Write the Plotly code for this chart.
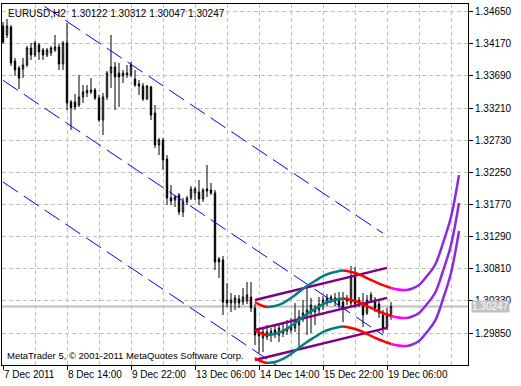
import plotly.graph_objects as go

# ---------------- data ----------------
symbol = "EURUSD,H2"
copyright_text = "MetaTrader 5, © 2001-2011 MetaQuotes Software Corp."
time_label_bars = [0, 16, 32, 48, 64, 80, 96]
time_labels = ["7 Dec 2011", "8 Dec 14:00", "9 Dec 22:00", "13 Dec 06:00",
               "14 Dec 14:00", "15 Dec 22:00", "19 Dec 06:00"]
grid_bars = [8, 24, 40, 56, 72, 88, 104, 112]
price_ticks = [1.29850, 1.30330, 1.30810, 1.31290, 1.31770, 1.32250,
               1.32730, 1.33210, 1.33690, 1.34170, 1.34650]

open_ = [1.34437, 1.34302, 1.34422, 1.33914, 1.33809, 1.33794, 1.33854, 1.34108, 1.34003, 1.34153,
         1.34078, 1.34003, 1.34033, 1.34078, 1.34123, 1.33869, 1.34183, 1.33301, 1.33301, 1.33256,
         1.33376, 1.33436, 1.33451, 1.33480, 1.33361, 1.33032, 1.33376, 1.33734, 1.33824, 1.33734,
         1.33690, 1.33705, 1.33705, 1.33645, 1.33570, 1.33540, 1.33346, 1.33525, 1.33137, 1.32659,
         1.32733, 1.32450, 1.31867, 1.31837, 1.31912, 1.31658, 1.31807, 1.31867, 1.31942, 1.31957,
         1.31852, 1.32001, 1.31986, 1.31942, 1.30956, 1.30941, 1.30343, 1.30298, 1.30298, 1.30358,
         1.30313, 1.30328, 1.30388, 1.30224, 1.29850, 1.29775, 1.29790, 1.29820, 1.29895, 1.29820,
         1.29850, 1.29880, 1.29895, 1.29925, 1.29970, 1.30074, 1.30119, 1.30149, 1.30164, 1.30194,
         1.30268, 1.30298, 1.30343, 1.30313, 1.30343, 1.30313, 1.30373, 1.30298, 1.30687, 1.30343,
         1.30253, 1.30149, 1.30343, 1.30343, 1.30283, 1.30119, 1.29940, 1.30122]
high = [1.34496, 1.34541, 1.34452, 1.33959, 1.33839, 1.33959, 1.34138, 1.34183, 1.34213, 1.34183,
        1.34108, 1.34108, 1.34138, 1.34302, 1.34168, 1.34213, 1.34481, 1.33331, 1.33421, 1.33705,
        1.33555, 1.33555, 1.33660, 1.33510, 1.33406, 1.33436, 1.33764, 1.34302, 1.33899, 1.33884,
        1.33779, 1.33854, 1.33899, 1.33779, 1.33630, 1.33585, 1.33555, 1.33540, 1.33256, 1.32763,
        1.32763, 1.32509, 1.32061, 1.31912, 1.31942, 1.31867, 1.31897, 1.32046, 1.32031, 1.32136,
        1.32016, 1.32360, 1.32091, 1.31986, 1.30985, 1.31000, 1.30597, 1.30448, 1.30418, 1.30418,
        1.30522, 1.30612, 1.30612, 1.30283, 1.29895, 1.29940, 1.29970, 1.29925, 1.29955, 1.29999,
        1.30014, 1.30044, 1.30074, 1.30298, 1.30194, 1.30343, 1.30537, 1.30373, 1.30268, 1.30388,
        1.30403, 1.30433, 1.30418, 1.30448, 1.30463, 1.30463, 1.30418, 1.30851, 1.30836, 1.30388,
        1.30448, 1.30418, 1.30463, 1.30388, 1.30343, 1.30194, 1.30224, 1.30312]
low = [1.34168, 1.34257, 1.33839, 1.33690, 1.33495, 1.33660, 1.33824, 1.33929, 1.33973, 1.33929,
       1.33929, 1.33973, 1.33988, 1.34048, 1.33779, 1.33779, 1.33182, 1.32883, 1.33182, 1.33226,
       1.33286, 1.33376, 1.33421, 1.33331, 1.33002, 1.32808, 1.33331, 1.33510, 1.33182, 1.33226,
       1.33585, 1.33660, 1.33675, 1.33525, 1.33406, 1.33316, 1.33331, 1.33032, 1.32614, 1.32509,
       1.32285, 1.31762, 1.31762, 1.31732, 1.31613, 1.31583, 1.31762, 1.31837, 1.31837, 1.31762,
       1.31807, 1.31882, 1.31912, 1.30791, 1.30672, 1.30119, 1.30238, 1.30164, 1.30194, 1.30224,
       1.30268, 1.30283, 1.30164, 1.29671, 1.29551, 1.29566, 1.29745, 1.29716, 1.29775, 1.29716,
       1.29790, 1.29820, 1.29850, 1.29865, 1.29641, 1.30014, 1.29820, 1.29850, 1.29970, 1.30134,
       1.30194, 1.30253, 1.30298, 1.30253, 1.30224, 1.30014, 1.30268, 1.30253, 1.30224, 1.30238,
       1.29940, 1.30119, 1.30298, 1.30164, 1.30074, 1.29850, 1.29895, 1.30047]
close = [1.34198, 1.34437, 1.33884, 1.33779, 1.33660, 1.33854, 1.34108, 1.34003, 1.34183, 1.34048,
         1.34003, 1.34078, 1.34108, 1.34123, 1.33869, 1.34183, 1.33286, 1.33212, 1.33226, 1.33376,
         1.33451, 1.33473, 1.33480, 1.33361, 1.33032, 1.33376, 1.33734, 1.33824, 1.33675, 1.33675,
         1.33734, 1.33734, 1.33854, 1.33555, 1.33540, 1.33346, 1.33540, 1.33107, 1.32659, 1.32733,
         1.32435, 1.31867, 1.31822, 1.31882, 1.31658, 1.31807, 1.31867, 1.32001, 1.32001, 1.31852,
         1.31986, 1.31972, 1.31942, 1.30911, 1.30911, 1.30313, 1.30298, 1.30343, 1.30373, 1.30298,
         1.30388, 1.30418, 1.30224, 1.29820, 1.29805, 1.29865, 1.29865, 1.29880, 1.29850, 1.29925,
         1.29895, 1.29925, 1.29940, 1.30044, 1.30089, 1.30149, 1.30194, 1.30268, 1.30224, 1.30283,
         1.30343, 1.30373, 1.30388, 1.30373, 1.30268, 1.30224, 1.30328, 1.30702, 1.30283, 1.30298,
         1.30119, 1.30343, 1.30418, 1.30224, 1.30149, 1.29925, 1.30104, 1.30247]

# Linear regression channel (blue dashed)
chan_bars = [0, 95]
chan_mid = [1.33625, 1.29820]
chan_dev = 0.01520

# Short regression channel (purple)
reg_bars = [63, 96]
reg_mid = [1.29895, 1.30375]
reg_dev = 0.00448

# Polynomial curve (middle) + forecast, and its band offset
curve_bars = [63, 64, 65, 66, 68, 70, 72, 74, 76, 78, 80, 82, 84, 85, 86, 88, 90, 92, 94, 96,
              97, 98, 100, 101, 102, 104, 106, 108, 110, 112, 114]
curve_mid = [1.29895, 1.29858, 1.29835, 1.29820, 1.29835, 1.29880, 1.29955, 1.30044, 1.30134,
             1.30209, 1.30283, 1.30328, 1.30358, 1.30366, 1.30358, 1.30328, 1.30283, 1.30224,
             1.30171, 1.30126, 1.30104, 1.30089, 1.30074, 1.30074, 1.30089, 1.30149, 1.30283,
             1.30448, 1.30776, 1.31165, 1.31792]
curve_dev = 0.00418
curve_segments = [(63, 66, "#ff0000"), (66, 85, "#008080"), (85, 97, "#ff0000"),
                  (97, 101, "#ff00ff"), (101, 114, "#8a2be2")]

# ---------------- figure ----------------
x = list(range(len(open_)))
fig = go.Figure()

fig.add_trace(go.Candlestick(
    x=x, open=open_, high=high, low=low, close=close,
    increasing=dict(line=dict(color="black", width=1), fillcolor="white"),
    decreasing=dict(line=dict(color="black", width=1), fillcolor="black"),
    whiskerwidth=0, showlegend=False, hoverinfo="skip"))

for k in (1, 0, -1):
    fig.add_trace(go.Scatter(
        x=chan_bars, y=[m + k * chan_dev for m in chan_mid], mode="lines",
        line=dict(color="#0000ff", width=1, dash="18px,7px"),
        showlegend=False, hoverinfo="skip"))

for k in (1, 0, -1):
    fig.add_trace(go.Scatter(
        x=reg_bars, y=[m + k * reg_dev for m in reg_mid], mode="lines",
        line=dict(color="#800080", width=2.5),
        showlegend=False, hoverinfo="skip"))

for k in (1, 0, -1):
    for a, b, col in curve_segments:
        xs = [bb for bb in curve_bars if a <= bb <= b]
        ys = [curve_mid[curve_bars.index(bb)] + k * curve_dev for bb in xs]
        fig.add_trace(go.Scatter(
            x=xs, y=ys, mode="lines", line=dict(color=col, width=2.5, shape="spline"),
            showlegend=False, hoverinfo="skip"))

last_close = close[-1]
fig.add_shape(type="line", xref="paper", x0=0, x1=1, yref="y", y0=last_close, y1=last_close,
              line=dict(color="#c0c0c0", width=2), layer="below")

fig.add_annotation(xref="paper", yref="y", x=1, y=last_close, xanchor="left", yanchor="middle",
                   xshift=3, text=f"{last_close:.5f}", showarrow=False,
                   font=dict(family="Liberation Sans, Arial", size=10, color="white"),
                   bgcolor="#c0c0c0", borderpad=0)

fig.add_annotation(xref="paper", yref="paper", x=0, y=1, xanchor="left", yanchor="top",
                   xshift=4, yshift=-2,
                   text=f"{symbol}  {open_[-1]:.5f} {high[-1]:.5f} {low[-1]:.5f} {close[-1]:.5f}",
                   showarrow=False, font=dict(family="Liberation Sans, Arial", size=10, color="black"))

fig.add_annotation(xref="paper", yref="paper", x=0, y=0, xanchor="left", yanchor="bottom",
                   xshift=3, yshift=2, text=copyright_text, showarrow=False,
                   font=dict(family="Liberation Sans, Arial", size=9.5, color="black"))

grid = dict(showgrid=True, gridcolor="#c0c0c0", griddash="4px,3px", gridwidth=1)
fig.update_layout(
    width=521, height=386, autosize=False,
    margin=dict(l=2, r=53, t=4, b=21, pad=0),
    paper_bgcolor="white", plot_bgcolor="white",
    boxgap=0.5,
    font=dict(family="Liberation Sans, Arial", size=10, color="black"),
    xaxis=dict(range=[-0.25, 116.25], tickvals=time_label_bars, ticktext=time_labels,
               tickangle=0,
               ticks="outside", ticklen=4, tickcolor="black", ticklabelposition="outside right",
               showline=True, linecolor="black", mirror=True, zeroline=False,
               rangeslider=dict(visible=False),
               minor=dict(tickvals=grid_bars, showgrid=True, gridcolor="#c0c0c0",
                          griddash="4px,3px", ticks=""),
               **grid),
    yaxis=dict(range=[1.29372, 1.34765], side="right", tickvals=price_ticks,
               ticktext=[f"{v:.5f}" for v in price_ticks],
               ticks="outside", ticklen=4, tickcolor="black",
               showline=True, linecolor="black", mirror=True, zeroline=False, **grid),
)

fig.write_html("out.html", config={"displayModeBar": False},
               post_script="document.body.style.margin='0';document.body.style.overflow='hidden';")
